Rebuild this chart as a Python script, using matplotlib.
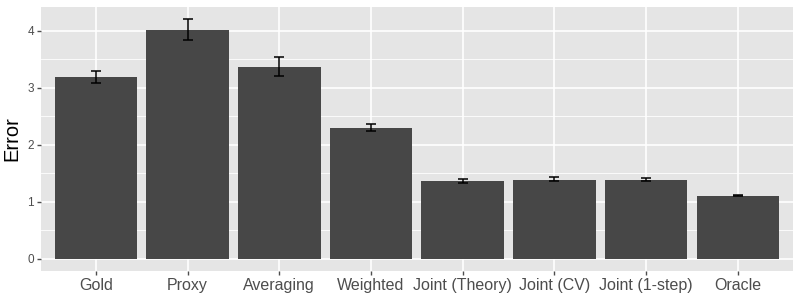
import numpy as np
import matplotlib
matplotlib.use("Agg")
import matplotlib.pyplot as plt

plt.rcParams["font.family"] = ["Liberation Sans", "DejaVu Sans"]

# значення
methods = ["Gold", "Proxy", "Averaging", "Weighted", "Joint (Theory)",
           "Joint (CV)", "Joint (1-step)", "Oracle"]
error_mean = [3.19, 4.02, 3.37, 2.30, 1.37, 1.39, 1.39, 1.11]
error_lo = [3.09, 3.84, 3.21, 2.24, 1.34, 1.36, 1.36, 1.10]
error_hi = [3.30, 4.21, 3.55, 2.37, 1.41, 1.43, 1.42, 1.12]

fig = plt.figure(figsize=(8, 3), dpi=100)
ax = fig.add_axes([0.051, 0.097, 0.94, 0.88])
ax.set_facecolor("#E5E5E5")

x = np.arange(len(methods))
mean = np.array(error_mean)
yerr = [mean - np.array(error_lo), np.array(error_hi) - mean]

# сітка: основні та проміжні лінії
for v in np.arange(0.5, 4.5, 1.0):
    ax.axhline(v, color="white", lw=0.6, zorder=0)
for v in range(5):
    ax.axhline(v, color="white", lw=1.2, zorder=0)
for xi in x:
    ax.axvline(xi, color="white", lw=1.2, zorder=0)

ax.bar(x, mean, width=0.9, color="#474747", zorder=2)
ax.errorbar(x, mean, yerr=yerr, fmt="none", ecolor="black",
            elinewidth=1.1, capsize=3.5, capthick=1.1, zorder=3)

ax.set_xlim(-0.6, len(methods) - 0.4)
ax.set_ylim(-0.21, 4.42)
ax.set_yticks([0, 1, 2, 3, 4])
ax.set_xticks(x)
ax.set_xticklabels(methods, fontsize=11.5, color="#4D4D4D")
ax.tick_params(axis="y", labelsize=8.5, colors="#4D4D4D", length=3, width=1, pad=2)
ax.tick_params(axis="x", colors="#4D4D4D", length=3, width=1, pad=2)
ax.set_ylabel("Error", fontsize=14.5, labelpad=4)

for s in ax.spines.values():
    s.set_visible(False)

fig.savefig("out.png", dpi=100)
